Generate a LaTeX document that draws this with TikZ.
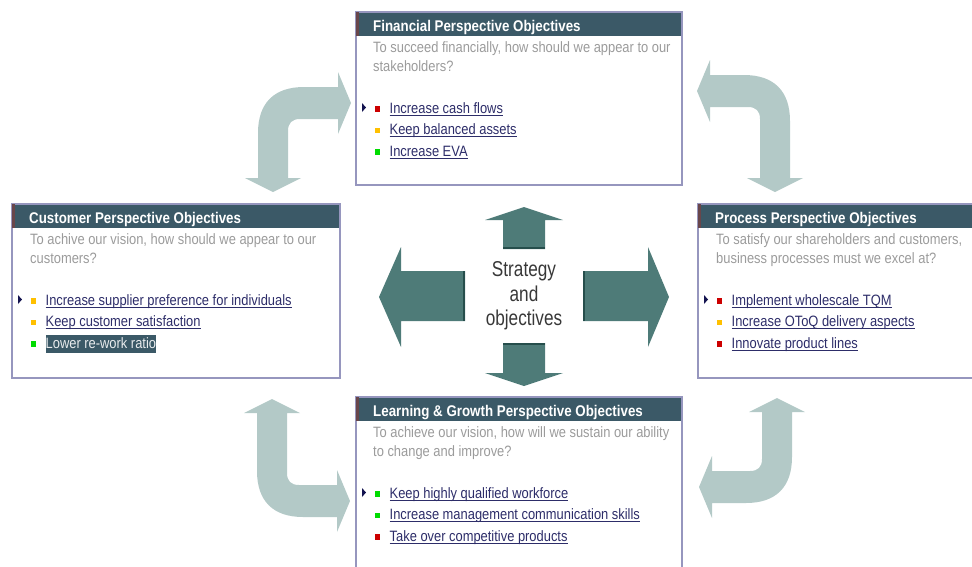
\documentclass[tikz,border=0pt]{standalone}
\usepackage{fontspec}
\setmainfont{Liberation Sans}[FakeStretch=0.86]
\newfontfamily\stratfont{Liberation Sans}[FakeStretch=0.8]

\definecolor{slate}{RGB}{59,89,103}
\definecolor{stripebrown}{RGB}{105,70,75}
\definecolor{framegray}{RGB}{150,150,190}
\definecolor{askgray}{RGB}{155,155,155}
\definecolor{linknavy}{RGB}{45,45,105}
\definecolor{markernavy}{RGB}{20,20,80}
\definecolor{sqred}{RGB}{204,0,0}
\definecolor{sqyellow}{RGB}{255,192,0}
\definecolor{sqgreen}{RGB}{0,220,0}
\definecolor{stratteal}{RGB}{78,123,120}
\definecolor{stratdark}{RGB}{38,78,76}
\definecolor{loopgray}{RGB}{179,201,199}

% bent double-headed arrow, #1 = length of the down arm
\newcommand\looparrow[1]{(80,0) -- (80,-15) -- (93,16) -- (80,47) -- (80,32)
  -- (42,32) .. controls (34,32) and (30,36) .. (30,44) -- (30,#1) -- (43,#1)
  -- (15,#1+14) -- (-13,#1) -- (0,#1) -- (0,46) .. controls (0,16) and (16,0) .. (46,0) -- cycle}

\begin{document}
\begin{tikzpicture}[
    x=1pt, y=-1pt,
    boxframe/.style={draw=framegray, line width=1.2pt},
    headbar/.style={fill=slate},
    titletext/.style={anchor=base west, inner sep=0, text=white, font=\fontsize{15.5}{19}\selectfont\bfseries},
    asktext/.style={anchor=base west, inner sep=0, text=askgray, font=\fontsize{15}{19}\selectfont},
    itemtext/.style={anchor=base west, inner sep=0, text=linknavy, font=\fontsize{15}{19}\selectfont},
    itemsel/.style={itemtext, fill=slate, text=white!88!slate, text height=13.5pt, text depth=4.5pt},
    itemline/.style={draw=linknavy, line width=0.8pt},
    loopfill/.style={fill=loopgray},
    stratfill/.style={fill=stratteal},
    strattext/.style={align=center, text=black!78, font=\stratfont\fontsize{21.5}{24.5}\selectfont}
    ]

    \clip (0,0) rectangle (972,566);

    % the four bent arrows
    \begin{scope}[shift={(258,87)}]
      \fill[loopfill] \looparrow{91};
    \end{scope}
    \begin{scope}[shift={(790,75)}, xscale=-1]
      \fill[loopfill] \looparrow{103};
    \end{scope}
    \begin{scope}[shift={(257,517)}, yscale=-1]
      \fill[loopfill] \looparrow{104};
    \end{scope}
    \begin{scope}[shift={(792,503)}, xscale=-1, yscale=-1]
      \fill[loopfill] \looparrow{91};
    \end{scope}

    % centre
    \node[strattext] (strategy) at (524,296) {Strategy\\and\\objectives};
    \fill[stratfill] (524,207) -- (563,220) -- (545,220) -- (545,249) -- (503,249) -- (503,220) -- (485,220) -- cycle;
    \fill[stratfill] (524,386) -- (563,373) -- (545,373) -- (545,343) -- (503,343) -- (503,373) -- (485,373) -- cycle;
    \fill[stratfill] (379,297) -- (401,247) -- (401,271) -- (465,271) -- (465,321) -- (401,321) -- (401,347) -- cycle;
    \fill[stratfill] (669,297) -- (648,247) -- (648,271) -- (583,271) -- (583,321) -- (648,321) -- (648,347) -- cycle;
    \draw[stratdark, line width=2pt] (503,248) -- (545,248) (503,344) -- (545,344)
      (464,271) -- (464,321) (584,271) -- (584,321);

    % financial
    \begin{scope}[shift={(356,12)}]
      \fill[headbar] (0,0) rectangle (326,24);
      \draw[boxframe] (0,0) rectangle (326,173);
      \fill[stripebrown] (0,0) rectangle (3,24);
      \node[titletext] (fin-title) at (17,19) {Financial Perspective Objectives};
      \node[asktext] (fin-ask1) at (17,40) {To succeed financially, how should we appear to our};
      \node[asktext] (fin-ask2) at (17,59.5) {stakeholders?};
      \fill[markernavy] (6,91) -- (10,95.5) -- (6,100) -- cycle;
      \foreach \y/\c/\t [count=\i] in {101/sqred/Increase cash flows,
          122.5/sqyellow/Keep balanced assets, 144/sqgreen/Increase EVA}
      {
        \fill[\c] (19,\y-6.75) rectangle +(5,5.5);
        \node[itemtext] (fin-\i) at (33.5,\y) {\t};
        \draw[itemline] ([yshift=-2pt]fin-\i.base west) -- ([yshift=-2pt]fin-\i.base east);
      }
    \end{scope}

    % customer
    \begin{scope}[shift={(12,204)}]
      \fill[headbar] (0,0) rectangle (328,24);
      \draw[boxframe] (0,0) rectangle (328,174);
      \fill[stripebrown] (0,0) rectangle (3,24);
      \node[titletext] (cus-title) at (17,19) {Customer Perspective Objectives};
      \node[asktext] (cus-ask1) at (18,40) {To achive our vision, how should we appear to our};
      \node[asktext] (cus-ask2) at (18,59.5) {customers?};
      \fill[markernavy] (6,91) -- (10,95.5) -- (6,100) -- cycle;
      \foreach \y/\c/\t [count=\i] in {101/sqyellow/Increase supplier preference for individuals,
          122.5/sqyellow/Keep customer satisfaction}
      {
        \fill[\c] (19,\y-6.75) rectangle +(5,5.5);
        \node[itemtext] (cus-\i) at (33.5,\y) {\t};
        \draw[itemline] ([yshift=-2pt]cus-\i.base west) -- ([yshift=-2pt]cus-\i.base east);
      }
      \fill[sqgreen] (19,137.25) rectangle +(5,5.5);
      \node[itemsel] (cus-3) at (33.5,144) {Lower re-work ratio};
    \end{scope}

    % process
    \begin{scope}[shift={(698,204)}]
      \fill[headbar] (0,0) rectangle (300,24);
      \draw[boxframe] (0,0) rectangle (300,174);
      \fill[stripebrown] (0,0) rectangle (3,24);
      \node[titletext] (pro-title) at (17,19) {Process Perspective Objectives};
      \node[asktext] (pro-ask1) at (18,40) {To satisfy our shareholders and customers,};
      \node[asktext] (pro-ask2) at (18,59.5) {business processes must we excel at?};
      \fill[markernavy] (6,91) -- (10,95.5) -- (6,100) -- cycle;
      \foreach \y/\c/\t [count=\i] in {101/sqred/Implement wholescale TQM,
          122.5/sqyellow/Increase OToQ delivery aspects, 144/sqred/Innovate product lines}
      {
        \fill[\c] (19,\y-6.75) rectangle +(5,5.5);
        \node[itemtext] (pro-\i) at (33.5,\y) {\t};
        \draw[itemline] ([yshift=-2pt]pro-\i.base west) -- ([yshift=-2pt]pro-\i.base east);
      }
    \end{scope}

    % learning & growth
    \begin{scope}[shift={(356,397)}]
      \fill[headbar] (0,0) rectangle (326,24);
      \draw[boxframe] (0,0) rectangle (326,200);
      \fill[stripebrown] (0,0) rectangle (3,24);
      \node[titletext] (lea-title) at (17,19) {Learning \& Growth Perspective Objectives};
      \node[asktext] (lea-ask1) at (17,40) {To achieve our vision, how will we sustain our ability};
      \node[asktext] (lea-ask2) at (17,59.5) {to change and improve?};
      \fill[markernavy] (6,91) -- (10,95.5) -- (6,100) -- cycle;
      \foreach \y/\c/\t [count=\i] in {101/sqgreen/Keep highly qualified workforce,
          122.5/sqgreen/Increase management communication skills, 144/sqred/Take over competitive products}
      {
        \fill[\c] (19,\y-6.75) rectangle +(5,5.5);
        \node[itemtext] (lea-\i) at (33.5,\y) {\t};
        \draw[itemline] ([yshift=-2pt]lea-\i.base west) -- ([yshift=-2pt]lea-\i.base east);
      }
    \end{scope}

\end{tikzpicture}
\end{document}
